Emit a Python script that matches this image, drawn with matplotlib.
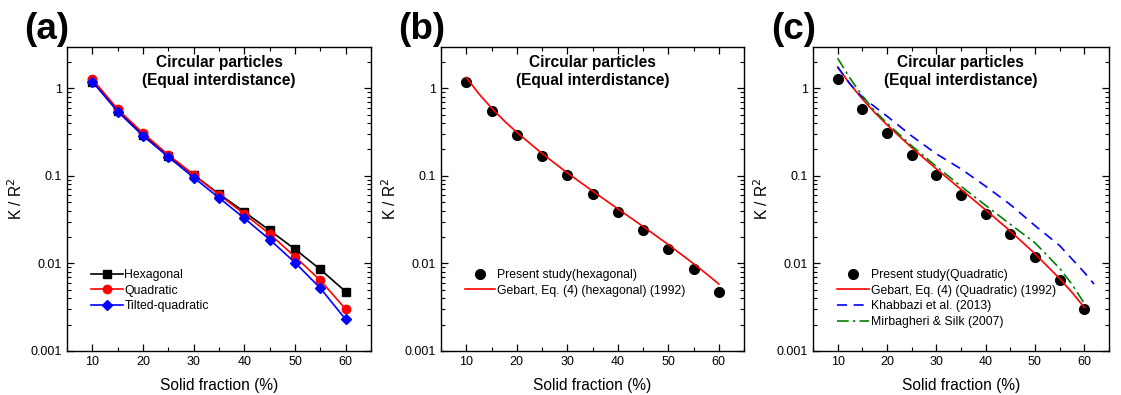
import numpy as np
import matplotlib
matplotlib.use("Agg")
import matplotlib.pyplot as plt
from matplotlib.ticker import FixedLocator, LogLocator, NullFormatter, MultipleLocator

plt.rcParams['font.family'] = ['Liberation Sans', 'DejaVu Sans']

# simulated values
solid = [10, 15, 20, 25, 30, 35, 40, 45, 50, 55, 60]
k_hex = [1.19, 0.555, 0.295, 0.169, 0.102, 0.062, 0.0387, 0.0238, 0.0145, 0.00853, 0.00475]
k_quad = [1.27, 0.575, 0.306, 0.173, 0.103, 0.0608, 0.0366, 0.0216, 0.0119, 0.0064, 0.0030]
k_tilt = [1.19, 0.54, 0.285, 0.164, 0.0953, 0.056, 0.0327, 0.0187, 0.0102, 0.0052, 0.00229]

# model curves
curve_x = [10, 12.5, 15, 17.5, 20, 25, 30, 35, 40, 45, 50, 55, 57.5, 60]
gebart_hex = [1.325, 0.862, 0.594, 0.425, 0.313, 0.180, 0.108, 0.067, 0.042, 0.0264,
              0.0164, 0.00994, 0.00765, 0.00582]
gebart_quad = [1.745, 1.115, 0.754, 0.529, 0.382, 0.210, 0.120, 0.070, 0.0408, 0.0234,
               0.0129, 0.00672, 0.00468, 0.00315]

khab_x = [10, 12.5, 15, 20, 25, 30, 35, 40, 45, 50, 55, 60, 62]
khabbazi = [1.74, 1.12, 0.79, 0.48, 0.285, 0.178, 0.12, 0.076, 0.047, 0.027, 0.016, 0.0079, 0.0058]

mirb_x = [10, 12.5, 15, 17.5, 20, 25, 30, 35, 40, 45, 50, 55, 57.5, 60]
mirbagheri = [2.2, 1.3, 0.82, 0.55, 0.40, 0.22, 0.128, 0.076, 0.046, 0.028, 0.0172, 0.0088,
              0.0058, 0.0035]

y_ticks = [0.001, 0.01, 0.1, 1]
y_labels = ["0.001", "0.01", "0.1", "1"]


def style_axes(ax, panel):
    ax.set_yscale('log')
    ax.set_xlim(5, 65)
    ax.set_ylim(0.001, 2.95)
    ax.xaxis.set_major_locator(MultipleLocator(10))
    ax.xaxis.set_minor_locator(MultipleLocator(5))
    ax.yaxis.set_major_locator(FixedLocator(y_ticks))
    ax.yaxis.set_minor_locator(LogLocator(base=10, subs=np.arange(2, 10)))
    ax.yaxis.set_minor_formatter(NullFormatter())
    ax.set_yticklabels(y_labels)
    ax.tick_params(which='both', direction='in', top=True, right=True, labelsize=9)
    ax.tick_params(which='major', length=5, width=0.9)
    ax.tick_params(which='minor', length=3, width=0.8)
    for s in ax.spines.values():
        s.set_linewidth(1.0)
    ax.set_xlabel("Solid fraction (%)", fontsize=11.2, labelpad=7)
    ax.set_ylabel("K / R$^2$", fontsize=11.2, labelpad=4)
    ax.text(0.5, 0.975, "Circular particles\n(Equal interdistance)", transform=ax.transAxes,
            ha='center', va='top', fontsize=11.2, fontweight='bold', linespacing=1.3)
    ax.text(-0.14, 1.0, panel, transform=ax.transAxes, ha='left', va='bottom',
            fontsize=26.5, fontweight='bold')


fig = plt.figure(figsize=(11.21, 3.95), dpi=100)
ax_a = fig.add_axes([0.0598, 0.1114, 0.2712, 0.7696])
ax_b = fig.add_axes([0.3934, 0.1114, 0.2703, 0.7696])
ax_c = fig.add_axes([0.7252, 0.1114, 0.2640, 0.7696])

# (a)
ax_a.plot(solid, k_hex, color='black', marker='s', ms=5.5, lw=1.2, label="Hexagonal")
ax_a.plot(solid, k_quad, color='red', marker='o', ms=6, lw=1.2, label="Quadratic")
ax_a.plot(solid, k_tilt, color='blue', marker='D', ms=5, lw=1.2, label="Tilted-quadratic")
style_axes(ax_a, "(a)")
ax_a.legend(loc='upper left', bbox_to_anchor=(0.06, 0.29), frameon=False, fontsize=8.8,
            handlelength=2.6, handletextpad=0.1, labelspacing=0.3, borderpad=0)

# (b)
ax_b.plot(solid, k_hex, 'o', color='black', ms=7, label="Present study(hexagonal)")
ax_b.plot(curve_x, gebart_hex, color='red', lw=1.2, label="Gebart, Eq. (4) (hexagonal) (1992)")
style_axes(ax_b, "(b)")
ax_b.legend(loc='upper left', bbox_to_anchor=(0.06, 0.29), frameon=False, fontsize=8.8,
            handlelength=2.4, handletextpad=0.2, labelspacing=0.3, borderpad=0)

# (c)
ax_c.plot(solid, k_quad, 'o', color='black', ms=7, label="Present study(Quadratic)")
ax_c.plot(curve_x, gebart_quad, color='red', lw=1.2, label="Gebart, Eq. (4) (Quadratic) (1992)")
ax_c.plot(khab_x, khabbazi, color='blue', lw=1.2, ls=(0, (6, 4)), label="Khabbazi et al. (2013)")
ax_c.plot(mirb_x, mirbagheri, color='green', lw=1.2, ls=(0, (7, 2.5, 1.5, 2.5)),
          label="Mirbagheri & Silk (2007)")
style_axes(ax_c, "(c)")
ax_c.legend(loc='upper left', bbox_to_anchor=(0.06, 0.29), frameon=False, fontsize=8.8,
            handlelength=2.6, handletextpad=0.2, labelspacing=0.3, borderpad=0)

fig.savefig("out.png", dpi=100)
